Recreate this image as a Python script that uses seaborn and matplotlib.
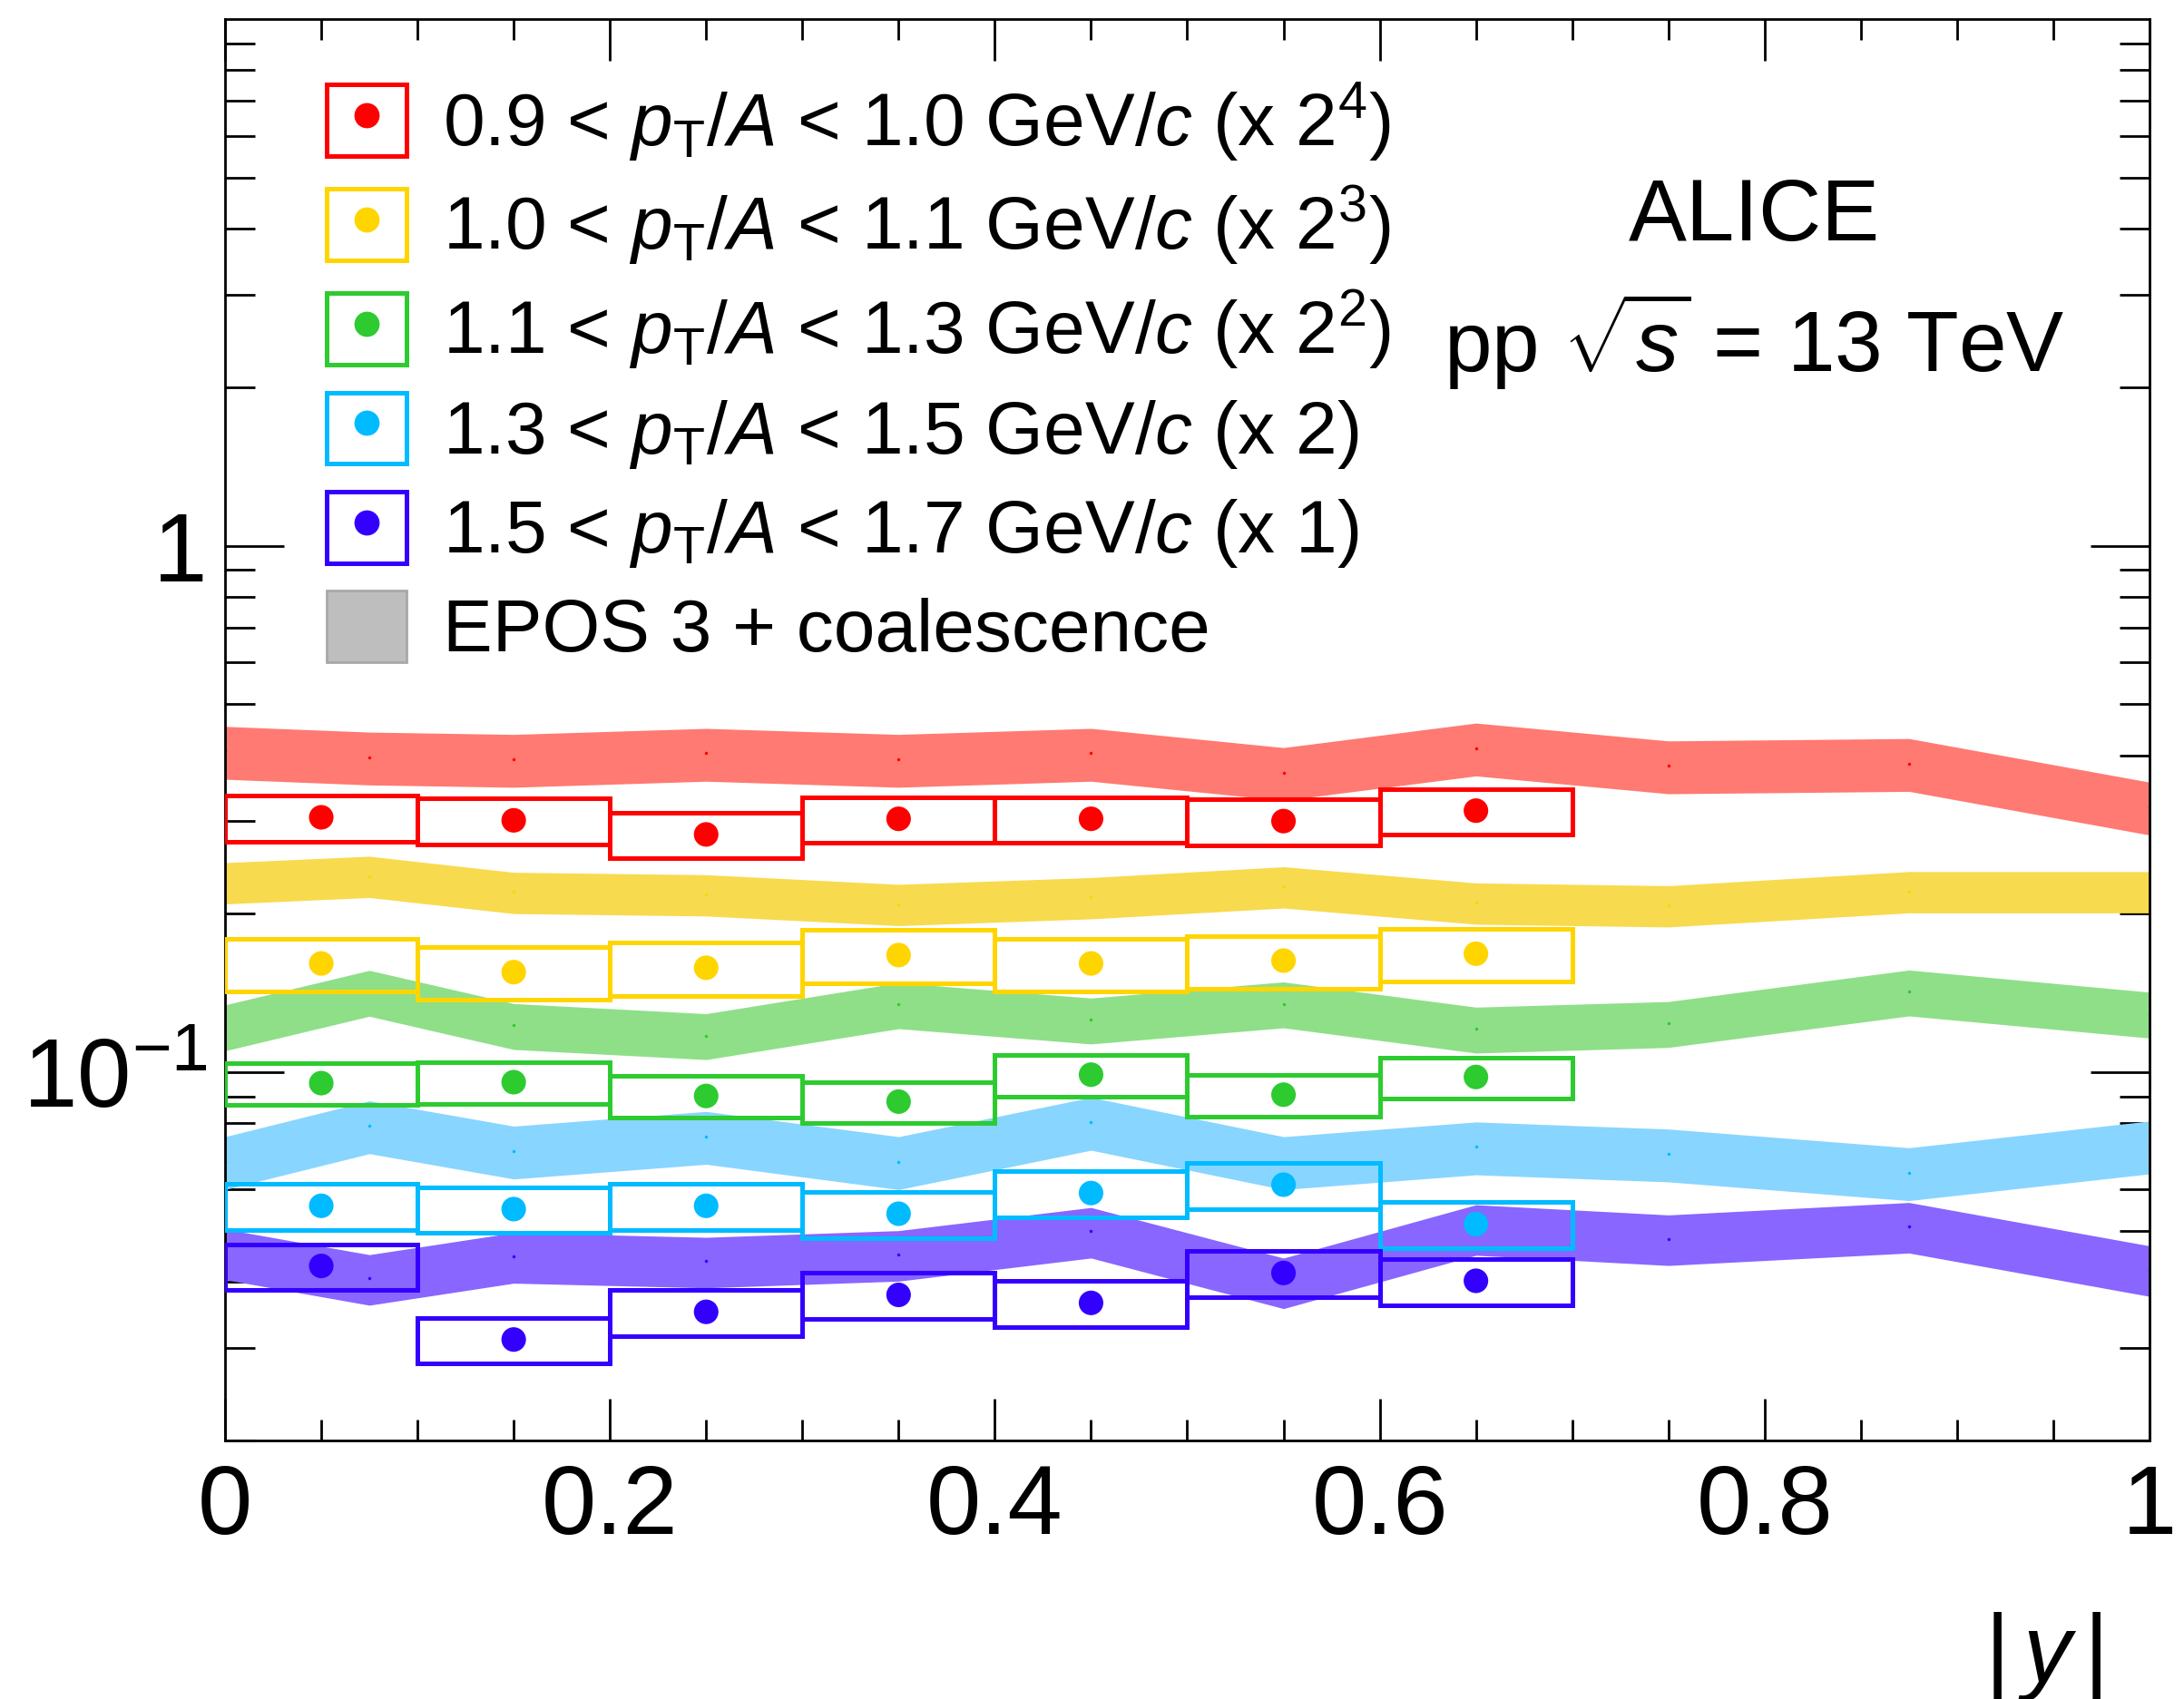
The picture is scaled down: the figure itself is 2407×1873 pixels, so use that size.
import numpy as np
import pandas as pd
import matplotlib
matplotlib.use("Agg")
import matplotlib.pyplot as plt
import seaborn as sns
from matplotlib.patches import Rectangle
from matplotlib.lines import Line2D
from matplotlib.legend_handler import HandlerTuple
from matplotlib.ticker import FixedLocator, FixedFormatter, NullFormatter

# ---------------- data ----------------
bin_centers = [0.05, 0.15, 0.25, 0.35, 0.45, 0.55, 0.65]
bin_width = 0.1

data_red = [0.305, 0.301, 0.283, 0.303, 0.303, 0.300, 0.314]
data_yellow = [0.161, 0.155, 0.158, 0.167, 0.161, 0.163, 0.168]
data_green = [0.0954, 0.0958, 0.0902, 0.0880, 0.0990, 0.0907, 0.0980]
data_cyan = [0.0558, 0.0550, 0.0558, 0.0539, 0.0590, 0.0612, 0.0515]
data_blue = [0.0429, 0.0311, 0.0351, 0.0378, 0.0365, 0.0416, 0.0402]

stat_red = [0.02, 0.02, 0.02, 0.02, 0.02, 0.02, 0.05]
stat_yellow = [0.03, 0.03, 0.03, 0.03, 0.03, 0.03, 0.05]
stat_green = [0.02, 0.02, 0.02, 0.02, 0.02, 0.02, 0.03]
stat_cyan = [0.03, 0.03, 0.03, 0.03, 0.03, 0.03, 0.04]
stat_blue = [0.05, 0.05, 0.05, 0.05, 0.05, 0.05, 0.05]

syst_red = 0.10
syst_yellow = 0.115
syst_green = 0.09
syst_cyan = 0.10
syst_blue = 0.10

model_x = [0.0, 0.075, 0.15, 0.25, 0.35, 0.45, 0.55, 0.65, 0.75, 0.875, 1.0]
model_red = [0.407, 0.397, 0.393, 0.4035, 0.393, 0.4035, 0.371, 0.413, 0.382, 0.386, 0.319]
model_yellow = [0.2295, 0.236, 0.220, 0.2177, 0.2087, 0.215, 0.2254, 0.210, 0.2075, 0.2207, 0.2207]
model_green = [0.1221, 0.142, 0.1228, 0.1175, 0.1345, 0.1258, 0.135, 0.1209, 0.1239, 0.1422, 0.1291]
model_cyan = [0.0677, 0.0792, 0.0709, 0.0756, 0.0677, 0.0804, 0.0677, 0.0722, 0.070, 0.0645, 0.0725]
model_blue = [0.0454, 0.0406, 0.0447, 0.0438, 0.0451, 0.0499, 0.040, 0.0505, 0.0483, 0.0510, 0.0422]
model_width = [0.115, 0.09, 0.10, 0.115, 0.11]

labels = [
    r"0.9 < $p_{\mathrm{T}}/A$ < 1.0 GeV/$c$ (x 2$^{4}$)",
    r"1.0 < $p_{\mathrm{T}}/A$ < 1.1 GeV/$c$ (x 2$^{3}$)",
    r"1.1 < $p_{\mathrm{T}}/A$ < 1.3 GeV/$c$ (x 2$^{2}$)",
    r"1.3 < $p_{\mathrm{T}}/A$ < 1.5 GeV/$c$ (x 2)",
    r"1.5 < $p_{\mathrm{T}}/A$ < 1.7 GeV/$c$ (x 1)",
]
model_label = "EPOS 3 + coalescence"

x_ticks = [0.0, 0.2, 0.4, 0.6, 0.8, 1.0]
x_ticklabels = ["0", "0.2", "0.4", "0.6", "0.8", "1"]
y_ticks = [0.1, 1.0]
y_ticklabels = [r"$10^{-1}$", "1"]

data_colors = ["#FF0000", "#FFD500", "#2DCB30", "#00BBFF", "#3300FF"]
band_colors = ["#FF7A72", "#F8DA4E", "#8FDF88", "#88D5FF", "#8866FF"]

# ---------------- style ----------------
sns.set_theme(style="ticks")
plt.rcParams["font.family"] = ["Liberation Sans", "DejaVu Sans"]
plt.rcParams["mathtext.fontset"] = "custom"
plt.rcParams["mathtext.rm"] = "Liberation Sans"
plt.rcParams["mathtext.it"] = "Liberation Sans:italic"
plt.rcParams["mathtext.bf"] = "Liberation Sans:bold"
plt.rcParams["mathtext.sf"] = "Liberation Sans"
plt.rcParams["axes.linewidth"] = 2.0
for key in ("text.color", "axes.labelcolor", "xtick.color", "ytick.color",
            "axes.edgecolor", "xtick.labelcolor", "ytick.labelcolor"):
    plt.rcParams[key] = "black"

fig = plt.figure(figsize=(24.07, 18.73), dpi=100)
ax = fig.add_axes([0.10303, 0.15216, 0.88118, 0.83663])
ax.set_yscale("log")

data_all = [data_red, data_yellow, data_green, data_cyan, data_blue]
stat_all = [stat_red, stat_yellow, stat_green, stat_cyan, stat_blue]
syst_all = [syst_red, syst_yellow, syst_green, syst_cyan, syst_blue]
model_all = [model_red, model_yellow, model_green, model_cyan, model_blue]

# model bands
for m, w, bc, dc in zip(model_all, model_width, band_colors, data_colors):
    m = np.asarray(m)
    ax.fill_between(model_x, m * (1 - w), m * (1 + w), color=bc, lw=0, zorder=1)
    ax.plot(model_x, m, "o", ms=2.5, color=dc, mec="none", zorder=2)

# systematic boxes
for d, s, c in zip(data_all, syst_all, data_colors):
    d = np.asarray(d)
    ax.bar(bin_centers, d * (1 + s) - d * (1 - s), bottom=d * (1 - s), width=bin_width,
           fill=False, edgecolor=c, linewidth=3.6, zorder=3)

# stat error bars
for d, st, c in zip(data_all, stat_all, data_colors):
    d = np.asarray(d)
    ax.errorbar(bin_centers, d, yerr=d * np.asarray(st), fmt="none", ecolor=c,
                elinewidth=3, capsize=0, zorder=4)

# points via seaborn
rows = []
for lab, d in zip(labels, data_all):
    for xc, v in zip(bin_centers, d):
        rows.append({"absy": xc, "value": v, "series": lab})
df = pd.DataFrame(rows)
sns.scatterplot(data=df, x="absy", y="value", hue="series", hue_order=labels,
                palette=dict(zip(labels, data_colors)), s=380, edgecolor="none",
                legend=False, ax=ax, zorder=5)

# axes
ax.set_xlim(0, 1)
ax.set_ylim(0.02, 10)
ax.xaxis.set_major_locator(FixedLocator(x_ticks))
ax.xaxis.set_major_formatter(FixedFormatter(x_ticklabels))
ax.xaxis.set_minor_locator(FixedLocator(np.arange(0.05, 1.0, 0.05)))
ax.yaxis.set_major_locator(FixedLocator(y_ticks))
ax.yaxis.set_major_formatter(FixedFormatter(y_ticklabels))
minor_y = [k * 10.0 ** e for e in (-2, -1, 0) for k in range(2, 10)]
ax.yaxis.set_minor_locator(FixedLocator(minor_y))
ax.yaxis.set_minor_formatter(NullFormatter())
ax.tick_params(which="both", direction="in", top=True, right=True, width=2.0,
               color="black", labelcolor="black")
ax.tick_params(axis="x", which="major", length=33, labelsize=78, pad=18)
ax.tick_params(axis="x", which="minor", length=16.5)
ax.tick_params(axis="y", which="major", length=47, labelsize=77, pad=14)
ax.tick_params(axis="y", which="minor", length=23.5)
ax.set_xlabel(r"|$\,y\,$|", fontsize=76, va="center", color="black")
ax.xaxis.set_label_coords(0.9448, -0.152)
ax.set_ylabel("")
for sp in ax.spines.values():
    sp.set_visible(True)
    sp.set_linewidth(2.0)
    sp.set_color("black")

# texts
ax.text(0.7944, 0.8600, "ALICE", transform=ax.transAxes, ha="center", va="center",
        fontsize=69, color="black")
ax.text(0.7944, 0.7515, r"pp $\sqrt{s}$ = 13 TeV", transform=ax.transAxes, ha="center",
        va="baseline", fontsize=68, color="black")

# legend
handles = []
for c in data_colors:
    handles.append((Rectangle((0, 0), 1, 1, fill=False, edgecolor=c, lw=3.6),
                    Line2D([], [], marker="o", color=c, ls="none", ms=20, mec="none")))
handles.append(Rectangle((0, 0), 1, 1, facecolor="#BEBEBE", edgecolor="#A8A8A8", lw=2))
leg = ax.legend(handles, labels + [model_label], handler_map={tuple: HandlerTuple(ndivide=1)},
                loc="upper left", bbox_to_anchor=(0.0528, 0.957), fontsize=59,
                handlelength=1.08, handleheight=1.1, handletextpad=0.48,
                labelspacing=0.28, borderpad=0, borderaxespad=0, frameon=False)
for t in leg.get_texts():
    t.set_color("black")

fig.savefig("out.png", dpi=100, facecolor="white")
